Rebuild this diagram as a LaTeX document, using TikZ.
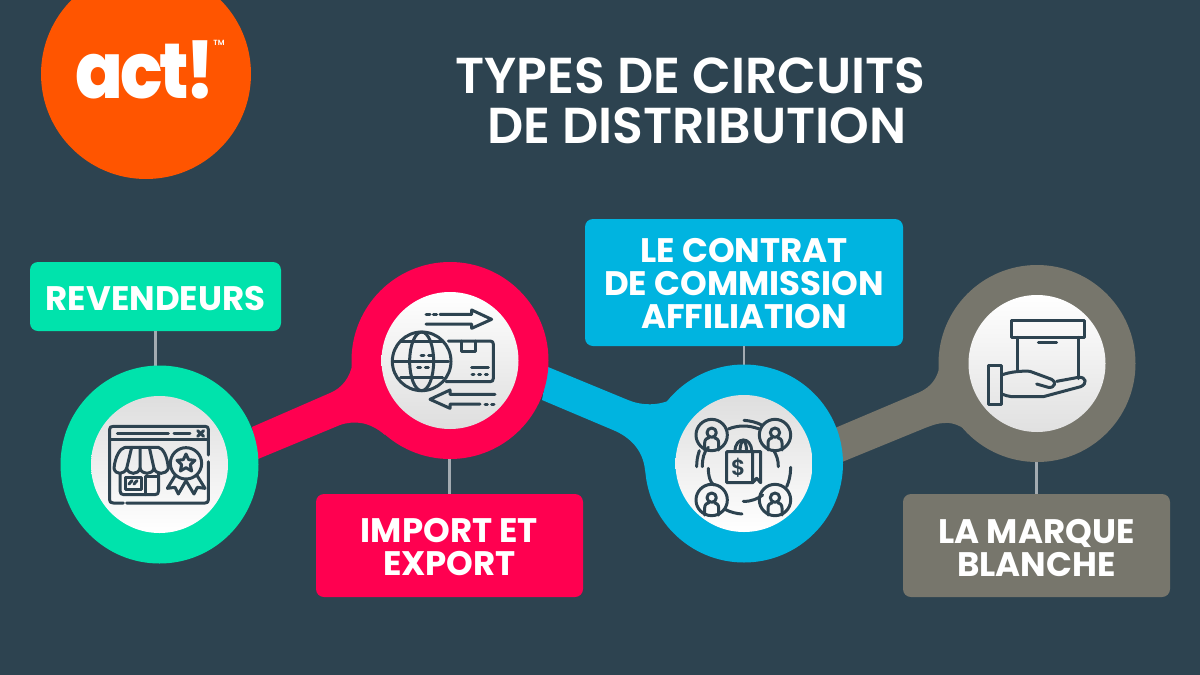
\documentclass[tikz,border=0pt]{standalone}
\usepackage{fontspec}
\setmainfont{Poppins}
\newfontfamily\semifont{Poppins SemiBold}
\newfontfamily\labfont{Poppins}[UprightFont={* Bold}]
\newfontfamily\logofont{Poppins ExtraBold}[LetterSpace=-5]
\definecolor{bgcol}{HTML}{2D4350}
\definecolor{orangecol}{HTML}{FF5500}
\definecolor{greencol}{HTML}{00E3AC}
\definecolor{redcol}{HTML}{FF0050}
\definecolor{bluecol}{HTML}{00B4E0}
\definecolor{graycol}{HTML}{77766C}
\definecolor{stemcol}{HTML}{A3ABB1}
\tikzset{
  lab/.style={rounded corners=8pt,inner sep=0pt},
  labtext/.style={inner sep=0pt,align=center,text=white,
    font=\labfont\fontsize{34}{33}\selectfont},
  ring/.style={circle,inner sep=0pt,minimum size=197pt},
  disc/.style={circle,inner sep=0pt,minimum size=137pt},
  stem/.style={stemcol,line width=2.2pt},
  ico/.style={bgcol,line width=3pt,line cap=round,line join=round},
}
\begin{document}
\begin{tikzpicture}[x=1pt,y=-1pt]
\useasboundingbox (0,0) rectangle (1200,675);
\clip (0,0) rectangle (1200,675);
\fill[bgcol] (0,0) rectangle (1200,675);
\path (159.5,464.5) coordinate (G) (450,360.5) coordinate (R) (744,463.5) coordinate (B) (1037,363.5) coordinate (K);

\node[circle,inner sep=0pt,minimum size=210pt,fill=orangecol] (logo) at (146,74) {};
\node[text=white,inner sep=0pt,xscale=0.9,transform shape,font=\logofont\fontsize{78}{78}\selectfont] (act) at (145.5,69.5) {act!};
\node[text=white,inner sep=0pt,font=\semifont\fontsize{7.5}{8}\selectfont] (tm) at (219,43) {TM};
\node[text=white,inner sep=0pt,align=center,font=\semifont\fontsize{50.5}{50}\selectfont] (title) at (690.5,100.5) {TYPES DE CIRCUITS\\\hspace*{13pt}DE DISTRIBUTION};

\node[lab,fill=greencol,minimum width=251pt,minimum height=69pt] (revbox) at (155.5,296.5) {};
\node[lab,fill=redcol,minimum width=267pt,minimum height=103pt] (impbox) at (449.5,545.5) {};
\node[lab,fill=bluecol,minimum width=318pt,minimum height=127pt] (conbox) at (744,282.5) {};
\node[lab,fill=graycol,minimum width=267pt,minimum height=103pt] (marbox) at (1036.5,545.5) {};
\node[labtext] (revtext) at ([yshift=-2pt]revbox) {REVENDEURS};
\node[labtext] (imptext) at ([yshift=-2pt]impbox) {IMPORT ET\\EXPORT};
\node[labtext] (context) at ([yshift=-1pt]conbox) {LE CONTRAT\\DE COMMISSION\\AFFILIATION};
\node[labtext] (martext) at ([yshift=-2pt]marbox) {LA MARQUE\\BLANCHE};
\draw[stem] (revbox.south) -- (revbox.south |- G);
\draw[stem] (impbox.north) -- (impbox.north |- R);
\draw[stem] (conbox.south) -- (conbox.south |- B);
\draw[stem] (marbox.north) -- (marbox.north |- K);

\fill[graycol] (835,428) -- (920,392) .. controls (930,387) and (937,380) .. (940,365) -- (980,440) .. controls (965,428) and (955,422) .. (945,423) .. controls (938,423) and (933,425) .. (925,428) -- (842,462) -- cycle;
\node[ring,fill=graycol] (kring) at (K) {};
\node[disc,top color=white,bottom color=black!12] (kdisc) at (K) {};

\fill[bluecol] (548,367) -- (628,400) .. controls (640,405) and (660,408) .. (680,395) -- (660,510) -- (645,470) .. controls (643,450) and (630,437) .. (613,430) -- (542,400) -- cycle;
\node[ring,fill=bluecol,minimum size=198pt] (bring) at (B) {};
\node[disc,top color=black!13,bottom color=white] (bdisc) at (B) {};

\fill[redcol] (252,427) -- (330,393) .. controls (342,388) and (350,378) .. (353,362) -- (385,435) .. controls (370,422) and (355,420) .. (340,425) -- (258,459) -- cycle;
\node[ring,fill=redcol] (rring) at (R) {};
\node[disc,top color=white,bottom color=black!13] (rdisc) at (R) {};

\node[ring,fill=greencol,minimum size=198pt] (gring) at (G) {};
\node[disc,top color=black!13,bottom color=white] (gdisc) at (G) {};

\begin{scope}[shift={(60,360)},scale=1/3,ico]
\draw (190,429) -- (160,429) .. controls (152,429) and (149,426) .. (149,420) -- (149,208) .. controls (149,202) and (152,199) .. (160,199) -- (435,199) .. controls (442,199) and (445,202) .. (445,208) -- (445,285) (445,305) -- (445,420) .. controls (445,426) and (442,429) .. (435,429) -- (200,429);
\draw (149,238) -- (445,238) (172,220) -- (325,220) (342,220) -- (390,220);
\draw (413,212) -- (431,229) (431,212) -- (413,229);
\draw (195,262) -- (295,262) .. controls (310,265) and (322,290) .. (325,325) .. controls (318,345) and (288,345) .. (282,325) .. controls (276,345) and (246,345) .. (240,325) .. controls (234,345) and (206,345) .. (200,325) .. controls (192,345) and (166,345) .. (162,325) .. controls (165,290) and (180,265) .. (195,262);
\draw (200,325) -- (215,262) (240,325) -- (240,262) (282,325) -- (268,262);
\draw (180,342) -- (180,392) .. controls (180,400) and (184,404) .. (192,404) -- (285,404) .. controls (292,404) and (296,400) .. (296,392) -- (296,342);
\draw (195,352) rectangle (243,388) (255,404) -- (255,350) -- (296,350);
\draw (207,372) -- (216,362) (222,372) -- (231,362);
\draw (378,310) circle[radius=47];
\draw (378,282) -- (386,299) -- (405,301) -- (391,314) -- (395,333) -- (378,323) -- (361,333) -- (365,314) -- (351,301) -- (370,299) -- cycle;
\draw (345,348) -- (322,385) -- (345,382) -- (355,402) -- (378,362) -- (402,402) -- (412,382) -- (435,385) -- (412,348);
\end{scope}

\begin{scope}[shift={(340,260)},scale=1/3,ico]
\draw (258,163) -- (270,163) (280,163) -- (290,163);
\draw (300,163) -- (395,163) -- (395,150) -- (455,178) -- (395,205) -- (395,192) -- (258,192);
\draw (245,304) circle[radius=88];
\draw (245,304) ellipse[x radius=36,y radius=88];
\draw (157,304) -- (325,304) (182,245) -- (308,245) (182,352) -- (308,352);
\draw (243,285) -- (252,285) (266,285) -- (275,285) (233,323) -- (242,323) (256,323) -- (265,323);
\draw (325,243) -- (450,243) .. controls (457,243) and (460,246) .. (460,252) -- (460,355) .. controls (460,362) and (457,365) .. (450,365) -- (318,365);
\draw (365,243) -- (365,275) -- (405,275) -- (405,243);
\draw (395,323) -- (445,323);
\draw (396,343) -- (402,343) (416,343) -- (422,343) (436,343) -- (442,343);
\draw (465,403) -- (330,403) -- (330,390) -- (270,418) -- (330,445) -- (330,432) -- (420,432);
\draw (435,432) -- (442,432) (455,432) -- (462,432);
\end{scope}

\begin{scope}[shift={(640,360)},scale=1/3,ico]
\foreach \px/\py in {215/225,405/225,215/420,405/420} {
  \draw (\px,\py) circle[radius=47];
  \draw (\px,\py-7) circle[radius=14];
  \draw (\px-21,\py+45) -- (\px-21,\py+24) .. controls (\px-21,\py+13) and (\px-14,\py+9) .. (\px-8,\py+8) (\px+21,\py+45) -- (\px+21,\py+24) .. controls (\px+21,\py+13) and (\px+14,\py+9) .. (\px+8,\py+8);
}
\draw (265,207) .. controls (295,195) and (325,195) .. (358,207);
\draw (415,320) .. controls (415,300) and (410,285) .. (400,270);
\draw (205,325) .. controls (205,350) and (212,370) .. (222,375);
\draw (310,424) .. controls (335,425) and (355,415) .. (368,405);
\draw (187,320) .. controls (187,295) and (192,275) .. (205,262);
\draw (312,181) .. controls (330,182) and (350,187) .. (365,195);
\draw (170,320) .. controls (170,305) and (172,290) .. (178,272);
\draw (255,448) .. controls (272,457) and (290,461) .. (306,462);
\draw (452,322) .. controls (452,345) and (447,365) .. (440,380);
\draw (260,275) -- (362,275) -- (362,368) -- (350,355) -- (338,368) -- (260,368) -- cycle (338,275) -- (338,368);
\draw (285,275) .. controls (285,250) and (298,240) .. (310,240) .. controls (322,240) and (335,250) .. (335,275);
\draw (300,275) .. controls (300,255) and (305,245) .. (310,240) .. controls (315,245) and (320,255) .. (320,275);
\node[text=bgcol,inner sep=0pt,font=\semifont\fontsize{22}{22}\selectfont] (dollar) at (295,322) {\$};
\end{scope}

\begin{scope}[shift={(830,260)},scale=1/3,ico]
\draw (545,180) rectangle (763,232);
\draw (562,232) -- (562,332) (745,232) -- (745,356);
\draw (625,248) -- (680,248);
\draw (476,315) rectangle (515,432);
\draw (515,345) .. controls (540,335) and (580,332) .. (600,334) -- (665,358) .. controls (680,365) and (675,385) .. (655,382) -- (620,372);
\draw (680,364) -- (745,352) .. controls (770,350) and (772,372) .. (752,380) -- (640,410) -- (545,410) .. controls (535,410) and (525,405) .. (515,402);
\end{scope}
\end{tikzpicture}
\end{document}
